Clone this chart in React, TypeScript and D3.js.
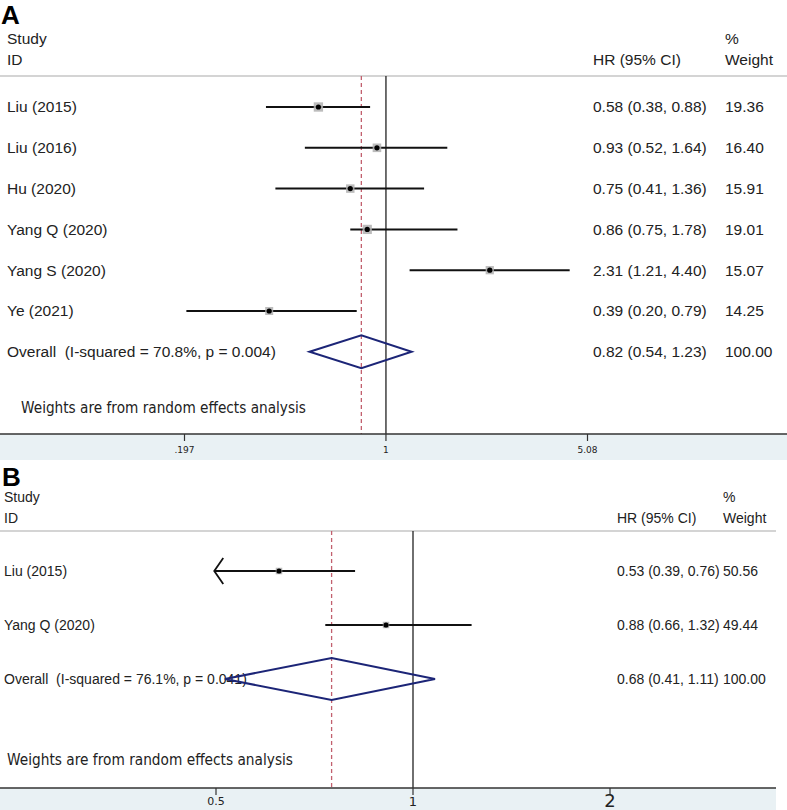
import * as d3 from "d3";

// panel A
const studiesA = ["Liu (2015)", "Liu (2016)", "Hu (2020)", "Yang Q (2020)", "Yang S (2020)", "Ye (2021)"];
const hrA = [0.58, 0.93, 0.75, 0.86, 2.31, 0.39];
const lowA = [0.38, 0.52, 0.41, 0.75, 1.21, 0.2];
const highA = [0.88, 1.64, 1.36, 1.78, 4.4, 0.79];
const weightA = [19.36, 16.4, 15.91, 19.01, 15.07, 14.25];
const overallA = { label: "Overall  (I-squared = 70.8%, p = 0.004)", hr: 0.82, low: 0.54, high: 1.23, weight: 100 };
const ticksA = [0.197, 1, 5.08];
const tickLabelsA = [".197", "1", "5.08"];

// panel B
const studiesB = ["Liu (2015)", "Yang Q (2020)"];
const hrB = [0.53, 0.88];
const lowB = [0.39, 0.66];
const highB = [0.76, 1.32];
const weightB = [50.56, 49.44];
const overallB = { label: "Overall  (I-squared = 76.1%, p = 0.041)", hr: 0.68, low: 0.41, high: 1.11, weight: 100 };
const ticksB = [0.5, 1, 2];
const tickLabelsB = ["0.5", "1", "2"];

const f2 = d3.format(".2f");
const ARIAL = "'Liberation Sans', Arial, sans-serif";
const VERD = "'DejaVu Sans', Verdana, sans-serif";

function Forest({ p }) {
  const x = p.x;
  const ax = p.axisX;
  const y = d3.scaleLinear().domain([0, 1]).range([p.row0, p.row0 + p.rowStep]);
  const n = p.studies.length;
  const size = d3.scaleSqrt().domain([0, 20]).range([0, p.boxMax]);
  const [dmin] = ax.domain();
  const diamond = [
    [x(p.overall.low), y(n)],
    [x(p.overall.hr), y(n) - p.dh],
    [x(p.overall.high), y(n)],
    [x(p.overall.hr), y(n) + p.dh],
  ];
  return (
    <g>
      <text x={p.letterX} y={p.letterY} fontFamily={ARIAL} fontWeight="bold" fontSize={26}>{p.letter}</text>
      <g fontFamily={ARIAL} fontSize={p.fs} fill="#222">
        <text x={p.labelX} y={p.hdr1} dy="0.35em">Study</text>
        <text x={p.labelX} y={p.hdr2} dy="0.35em">ID</text>
        <text x={p.hrX} y={p.hdr2} dy="0.35em">HR (95% CI)</text>
        <text x={p.wX} y={p.hdr1} dy="0.35em">%</text>
        <text x={p.wX} y={p.hdr2} dy="0.35em">Weight</text>
      </g>
      <line x1={0} x2={p.right} y1={p.sepY} y2={p.sepY} stroke="#d4d4d4" strokeWidth={2} />
      <line x1={x(1)} x2={x(1)} y1={p.sepY} y2={p.axisY} stroke="#222" strokeWidth={1.3} />
      <line x1={x(p.overall.hr)} x2={x(p.overall.hr)} y1={p.sepY} y2={p.axisY} stroke="#c2606e" strokeWidth={1.3} strokeDasharray="4,3" />
      {p.studies.map((s, i) => {
        const lo = p.low[i];
        const clipped = lo < dmin;
        const xl = x(lo);
        const s2 = size(p.weight[i] * p.boxScale) / 2;
        return (
          <g key={s}>
            <line x1={xl} x2={x(p.high[i])} y1={y(i)} y2={y(i)} stroke="#111" strokeWidth={p.ciW} />
            {clipped && (
              <path d={`M${xl + 9},${y(i) - 13}L${xl},${y(i)}L${xl + 9},${y(i) + 13}`} fill="none" stroke="#111" strokeWidth={p.ciW} />
            )}
            <rect x={x(p.hr[i]) - s2} y={y(i) - s2} width={s2 * 2} height={s2 * 2} fill="#b0b0b0" opacity={0.85} />
            <circle cx={x(p.hr[i])} cy={y(i)} r={2.6} fill="#000" />
            <g fontFamily={ARIAL} fontSize={p.fs} fill="#222">
              <text x={p.labelX} y={y(i)} dy="0.35em">{s}</text>
              <text x={p.hrX} y={y(i)} dy="0.35em">{`${f2(p.hr[i])} (${f2(lo)}, ${f2(p.high[i])})`}</text>
              <text x={p.wX} y={y(i)} dy="0.35em">{f2(p.weight[i])}</text>
            </g>
          </g>
        );
      })}
      <g fontFamily={ARIAL} fontSize={p.fs} fill="#222">
        <text x={p.labelX} y={y(n)} dy="0.35em" style={{ whiteSpace: "pre" }}>{p.overall.label}</text>
        <text x={p.hrX} y={y(n)} dy="0.35em">{`${f2(p.overall.hr)} (${f2(p.overall.low)}, ${f2(p.overall.high)})`}</text>
        <text x={p.wX} y={y(n)} dy="0.35em">{f2(p.overall.weight)}</text>
      </g>
      <path d={d3.line()(diamond) + "Z"} fill="none" stroke="#1c2577" strokeWidth={2} />
      <text x={p.noteX} y={p.noteY} dy="0.35em" fontFamily={VERD} fontSize={15} fill="#222" textLength={p.noteW} lengthAdjust="spacingAndGlyphs">
        Weights are from random effects analysis
      </text>
      <rect x={0} y={p.axisY} width={p.right} height={p.bandH} fill="#e9f1f4" />
      <line x1={0} x2={p.right} y1={p.axisY} y2={p.axisY} stroke="#333" strokeWidth={1.3} />
      {p.ticks.map((t, i) => (
        <g key={t}>
          <line x1={ax(t)} x2={ax(t)} y1={p.axisY} y2={p.axisY + 7} stroke="#333" strokeWidth={1.2} />
          <text x={ax(t)} y={p.tickY} dy="0.35em" textAnchor="middle" fontFamily={VERD} fontSize={p.tickFs[i]} fill="#222">
            {p.tickLabels[i]}
          </text>
        </g>
      ))}
    </g>
  );
}

export default function App() {
  const xA = d3.scaleLog().domain([0.197, 5.08]).range([184.5, 587.5]);
  const xB = d3.scaleLog().domain([0.5, 2]).range([413 - 146.3, 413 + 146.3]);
  const axB = d3.scaleLog().domain([0.5, 2]).range([216, 610]);
  const panelA = {
    letter: "A", letterX: 1, letterY: 24,
    studies: studiesA, hr: hrA, low: lowA, high: highA, weight: weightA, overall: overallA,
    x: xA, axisX: xA, ticks: ticksA, tickLabels: tickLabelsA, tickFs: [9, 9, 9],
    row0: 107, rowStep: 40.8, dh: 16.5, boxMax: 9.5, boxScale: 1, ciW: 2,
    fs: 15.5, labelX: 7, hrX: 593, wX: 725, hdr1: 39, hdr2: 60, sepY: 76, right: 787,
    noteX: 21, noteY: 408, noteW: 285, axisY: 434, bandH: 26, tickY: 450,
  };
  const panelB = {
    letter: "B", letterX: 2, letterY: 486,
    studies: studiesB, hr: hrB, low: lowB, high: highB, weight: weightB, overall: overallB,
    x: xB, axisX: axB, ticks: ticksB, tickLabels: tickLabelsB, tickFs: [11, 13, 18],
    row0: 571, rowStep: 54, dh: 21, boxMax: 6.5, boxScale: 0.4, ciW: 1.8,
    fs: 14, labelX: 4, hrX: 617, wX: 723, hdr1: 497, hdr2: 518, sepY: 531, right: 776,
    noteX: 7, noteY: 760, noteW: 286, axisY: 788, bandH: 22, tickY: 801,
  };
  return (
    <svg width={787} height={810} style={{ position: "absolute", left: 0, top: 0, background: "#fff" }}>
      <rect width={787} height={810} fill="#fff" />
      <Forest p={panelA} />
      <Forest p={panelB} />
    </svg>
  );
}
